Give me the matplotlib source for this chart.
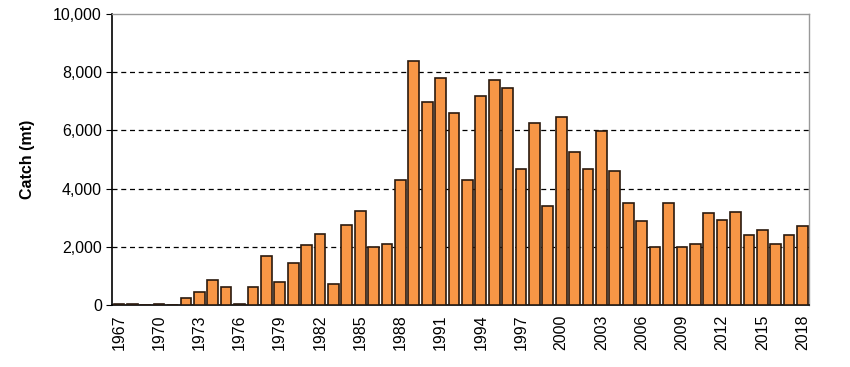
import numpy as np
import matplotlib.pyplot as plt
from matplotlib.ticker import FuncFormatter

years = list(range(1967, 2019))
catch = [20, 20, 0, 20, 0, 230, 460, 860, 610, 20,
         610, 1670, 780, 1440, 2060, 2440, 710, 2760, 3240, 1990,
         2090, 4300, 8390, 6990, 7790, 6600, 4300, 7180, 7740, 7440,
         4660, 6260, 3410, 6450, 5240, 4670, 5990, 4620, 3490, 2870,
         1990, 3490, 1990, 2090, 3160, 2930, 3210, 2390, 2590, 2090,
         2390, 2710]

plt.rcParams['font.family'] = ['Liberation Sans', 'DejaVu Sans']

fig = plt.figure(figsize=(8.5, 3.67), dpi=100)
ax = fig.add_axes([0.132, 0.169, 0.820, 0.793])

x = np.arange(len(years))
ax.bar(x, catch, width=0.8, color='#F79646', edgecolor='#2b1a0e', linewidth=1.2, zorder=3)

ax.set_xlim(-0.5, len(years) - 0.5)
ax.set_ylim(0, 10000)
ax.set_yticks(range(0, 10001, 2000))
ax.yaxis.set_major_formatter(FuncFormatter(lambda v, p: f'{int(v):,}'))
for yv in range(2000, 10000, 2000):
    ax.axhline(yv, color='black', linestyle=(0, (4, 3)), linewidth=0.9, zorder=1)

ax.set_xticks(x[::3])
ax.set_xticklabels([str(y) for y in years[::3]], rotation=90)
ax.tick_params(axis='x', length=0, pad=7, labelsize=11.5)
ax.tick_params(axis='y', length=4, direction='out', labelsize=11.5)

ax.set_ylabel('Catch (mt)', fontsize=11.5, fontweight='bold', labelpad=13)

for s in ['left', 'bottom']:
    ax.spines[s].set_color('black')
    ax.spines[s].set_linewidth(1.2)
for s in ['top', 'right']:
    ax.spines[s].set_color('#999999')
    ax.spines[s].set_linewidth(1.0)

fig.savefig('out.png', dpi=100)
